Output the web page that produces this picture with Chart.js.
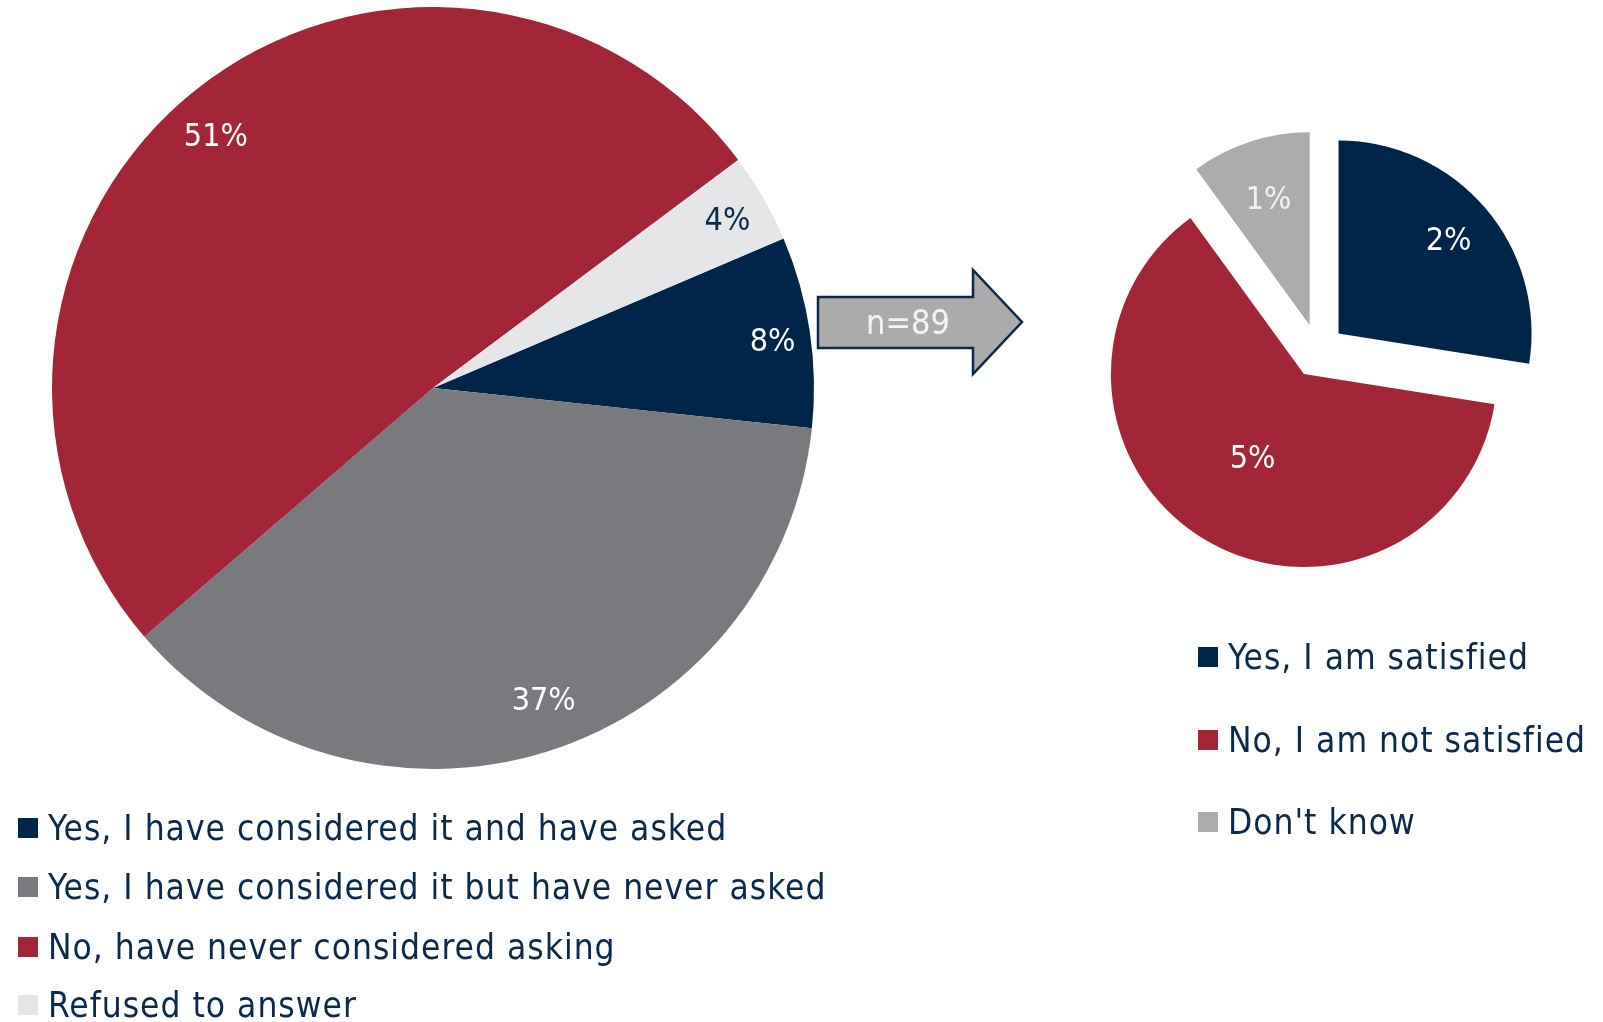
<!DOCTYPE html>
<html>
<head>
<meta charset="utf-8">
<script src="https://cdn.jsdelivr.net/npm/chart.js@4/dist/chart.umd.min.js"></script>
<style>
  html, body { margin: 0; padding: 0; background: #fff; }
  body { width: 1603px; height: 1022px; position: relative; overflow: hidden;
         font-family: "DejaVu Sans Condensed", "Liberation Sans Narrow", "DejaVu Sans", sans-serif; color: #0b2a4b; }
  canvas { position: absolute; }
  #mainPie { left: 0; top: 0; }
  #subPie { left: 1088px; top: 121px; }
  .legend { position: absolute; }
  .legend .item { position: absolute; left: 0; display: flex; align-items: center; white-space: nowrap;
                  font-size: 35px; letter-spacing: 1px; height: 40px; }
  .legend .box { width: 20px; height: 20px; margin-right: 10px; flex: none; }
  #arrow { position: absolute; left: 0; top: 0; }
</style>
</head>
<body>
<canvas id="mainPie" width="866" height="776"></canvas>
<canvas id="subPie" width="460" height="460"></canvas>

<svg id="arrow" width="1603" height="1022">
  <polygon points="818,297 973,297 973,270 1022,322 973,374 973,348 818,348"
           fill="#ababab" stroke="#0b2a4b" stroke-width="2.5" stroke-linejoin="miter"/>
  <text x="908" y="334" text-anchor="middle" font-size="34" fill="#f4f4f4"
        font-family="DejaVu Sans Condensed, Liberation Sans Narrow, sans-serif"></text>
</svg>

<div class="legend" id="mainLegend" style="left:18px; top:0;"></div>
<div class="legend" id="subLegend" style="left:1198px; top:0;"></div>

<script>
/* Data */
const mainLabels = [
  'Yes, I have considered it and have asked',
  'Yes, I have considered it but have never asked',
  'No, have never considered asking',
  'Refused to answer'
];
const mainValues = [8.1, 37.0, 51.1, 3.8];

const subLabels = ['Yes, I am satisfied', 'No, I am not satisfied', "Don't know"];
const subValues = [2.2, 5.0, 0.8];

const sampleNote = 'n=89';

/* Style */
const NAVY = '#012548';
const RED = '#a32638';
const GREY = '#797a7e';
const LIGHT = '#e5e6e7';
const SOFT = '#acacae';
const TEXT = '#0b2a4b';
const FONT = '"DejaVu Sans Condensed", "Liberation Sans Narrow", "DejaVu Sans", sans-serif';

const mainColors = [NAVY, GREY, RED, LIGHT];
const mainLabelColors = ['#fff', '#fff', '#fff', TEXT];
const subColors = [NAVY, RED, SOFT];
const subLabelColors = ['#fff', '#fff', '#f2f2f2'];

/* slice value labels drawn on the arcs */
const sliceLabels = {
  id: 'sliceLabels',
  afterDatasetsDraw(chart, args, opts) {
    const ctx = chart.ctx;
    const meta = chart.getDatasetMeta(0);
    ctx.save();
    ctx.font = opts.size + 'px ' + FONT;
    ctx.textAlign = 'center';
    ctx.textBaseline = 'middle';
    meta.data.forEach((arc, i) => {
      const p = arc.getProps(['x', 'y', 'startAngle', 'endAngle', 'outerRadius'], true);
      const nudge = (opts.nudge ? opts.nudge[i] : 0) * Math.PI / 180;
      const mid = (p.startAngle + p.endAngle) / 2 + nudge;
      const push = opts.push || 0;
      const r = push + p.outerRadius * opts.radius[i];
      const v = chart.data.datasets[0].data[i];
      ctx.fillStyle = opts.colors[i];
      ctx.fillText(Math.round(v) + '%', p.x + Math.cos(mid) * r, p.y + Math.sin(mid) * r + 2);
    });
    ctx.restore();
  }
};

/* pulls every slice out by the same gap, keeping its radius */
const explode = {
  id: 'explode',
  beforeDatasetsDraw(chart, args, opts) {
    chart.getDatasetMeta(0).data.forEach(arc => {
      if (arc._exploded) return;
      const draw = arc.draw;
      arc.draw = function(ctx, area) {
        const mid = (this.startAngle + this.endAngle) / 2;
        ctx.save();
        ctx.translate(Math.cos(mid) * opts.gap, Math.sin(mid) * opts.gap);
        draw.call(this, ctx, area);
        ctx.restore();
      };
      arc._exploded = true;
    });
  }
};

function baseOptions() {
  return {
    responsive: false,
    animation: false,
    events: [],
    layout: { padding: 0 },
    plugins: { legend: { display: false }, tooltip: { enabled: false } }
  };
}

/* main pie */
const mainOpts = baseOptions();
mainOpts.rotation = 66.9;
mainOpts.radius = 381;
mainOpts.plugins.sliceLabels = {
  size: 32, radius: [0.9, 0.869, 0.873, 0.89], nudge: [0.6, -2.2, -2, 0.2], colors: mainLabelColors
};

new Chart(document.getElementById('mainPie').getContext('2d'), {
  type: 'pie',
  data: { labels: mainLabels, datasets: [{ data: mainValues, backgroundColor: mainColors, borderWidth: 0 }] },
  options: mainOpts,
  plugins: [sliceLabels]
});

/* exploded breakdown pie */
const GAP = 27;

const subOpts = baseOptions();
subOpts.rotation = 0;
subOpts.radius = 193;
subOpts.plugins.explode = { gap: GAP };
subOpts.plugins.sliceLabels = { size: 32, push: GAP, radius: [0.75, 0.51, 0.69], colors: subLabelColors };

new Chart(document.getElementById('subPie').getContext('2d'), {
  type: 'pie',
  data: { labels: subLabels, datasets: [{ data: subValues, backgroundColor: subColors, borderWidth: 0 }] },
  options: subOpts,
  plugins: [explode, sliceLabels]
});

/* legends */
function buildLegend(id, labels, colors, rows) {
  const el = document.getElementById(id);
  labels.forEach((lab, i) => {
    const item = document.createElement('div');
    item.className = 'item';
    item.style.top = (rows[i] - 20) + 'px';
    item.innerHTML = '<span class="box" style="background:' + colors[i] + '"></span><span>' + lab + '</span>';
    el.appendChild(item);
  });
}
buildLegend('mainLegend', mainLabels, mainColors, [828, 887, 947, 1005]);
buildLegend('subLegend', subLabels, subColors, [657, 740, 822]);
document.querySelector('#arrow text').textContent = sampleNote;
</script>
</body>
</html>
